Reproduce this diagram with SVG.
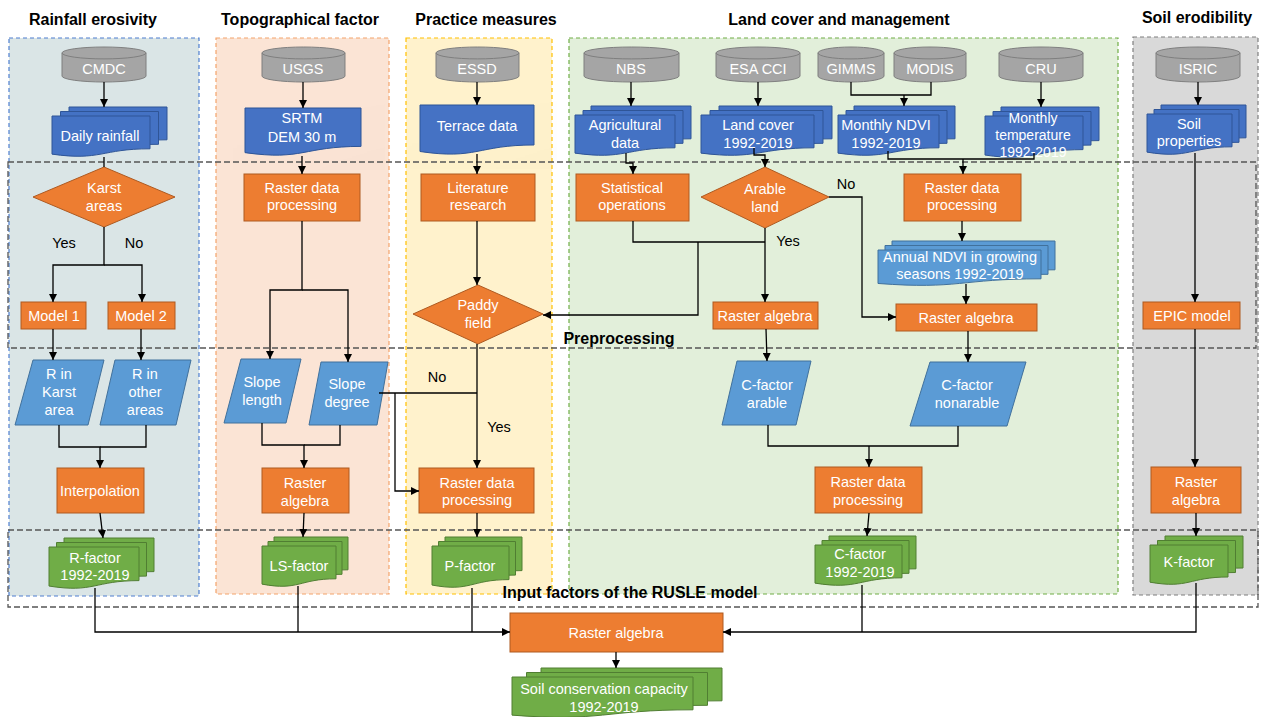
<svg xmlns="http://www.w3.org/2000/svg" xmlns:xlink="http://www.w3.org/1999/xlink" width="1262" height="717" viewBox="0 0 1262 717">
<style>
text{font-family:"Liberation Sans",Arial,sans-serif}
.t{font-size:14.5px;fill:#fff;stroke:none;text-anchor:middle}
.t14{font-size:14px}
.lbl{font-size:14.5px;fill:#000;stroke:none;text-anchor:middle}
.title{font-size:16px;font-weight:bold;fill:#000;text-anchor:middle}
.or{fill:#ed7d31;stroke:#ae5a21;stroke-width:1}
.db{fill:#4472c4;stroke:#2f5597;stroke-width:1}
.lb{fill:#5b9bd5;stroke:#41719c;stroke-width:1}
.gr{fill:#70ad47;stroke:#507e32;stroke-width:1}
.cy{fill:#a5a5a5;stroke:#7f7f7f;stroke-width:1}
.cn{fill:none;stroke:#000;stroke-width:1.3}
.ar{marker-end:url(#ah)}
.pan{stroke-width:1.2;stroke-dasharray:4 3}
.band{fill:none;stroke:#555;stroke-width:1.3;stroke-dasharray:6 3}
</style>
<defs>
<marker id="ah" viewBox="0 0 10 10" refX="10" refY="5" markerWidth="8" markerHeight="8" markerUnits="userSpaceOnUse" orient="auto"><path d="M0,0 L10,5 L0,10 Z" fill="#000"/></marker>
<path id="doc" d="M0,0 H1 V0.8 C0.5,0.8 0.5,1.1 0,0.93 Z" vector-effect="non-scaling-stroke"/>
<g id="cyl"><path d="M0,0.17 A0.5,0.17 0 0 1 1,0.17 V0.83 A0.5,0.17 0 0 1 0,0.83 Z" vector-effect="non-scaling-stroke"/><path d="M0,0.17 A0.5,0.17 0 0 0 1,0.17" fill="none" vector-effect="non-scaling-stroke"/></g>
<filter id="sh" x="-10%" y="-10%" width="130%" height="140%"><feDropShadow dx="2" dy="2.5" stdDeviation="1.5" flood-color="#000" flood-opacity="0.35"/></filter>
</defs>

<g id="panels">
<rect class="pan" x="9" y="38" width="190" height="558" fill="#dae5e6" stroke="#4f7fd0"/>
<rect class="pan" x="216" y="38" width="173" height="556" fill="#fbe4d5" stroke="#f4a46c"/>
<rect class="pan" x="406" y="38" width="146" height="556" fill="#fff2cc" stroke="#ffc000"/>
<rect class="pan" x="569" y="38" width="549" height="556" fill="#e2efda" stroke="#70ad47"/>
<rect class="pan" x="1133" y="37" width="125" height="558" fill="#d9d9d9" stroke="#7f7f7f"/>
<rect class="band" x="8" y="162" width="1248" height="186"/>
<rect class="band" x="8" y="530" width="1250" height="77"/>
</g>

<g id="titles">
<text class="title" x="93" y="25">Rainfall erosivity</text>
<text class="title" x="300" y="25">Topographical factor</text>
<text class="title" x="486" y="25">Practice measures</text>
<text class="title" x="839" y="25">Land cover and management</text>
<text class="title" x="1197" y="23">Soil erodibility</text>
<text class="title" x="619" y="344">Preprocessing</text>
<text class="title" x="630" y="598">Input factors of the RUSLE model</text>
</g>

<!-- Rainfall erosivity -->
<g id="n-cmdc" class="cy"><use href="#cyl" transform="translate(62,47) scale(84,35)"/><text class="t" x="104" y="74">CMDC</text></g>
<g id="n-daily" class="db"><use href="#doc" transform="translate(69,107) scale(98,41)"/><use href="#doc" transform="translate(60.5,111.5) scale(98,41)"/><use href="#doc" transform="translate(52,116) scale(98,41)"/><text class="t" x="100" y="141">Daily rainfall</text></g>
<g id="n-karst" class="or"><polygon points="104,167 175,197 104,227 33,197"/><text class="t" x="104" y="193">Karst</text><text class="t" x="104" y="211">areas</text></g>
<g id="n-model1" class="or"><rect x="21" y="302" width="65" height="27"/><text class="t" x="54" y="321">Model 1</text></g>
<g id="n-model2" class="or"><rect x="108" y="302" width="67" height="27"/><text class="t" x="141" y="321">Model 2</text></g>
<g id="n-rkarst" class="lb"><polygon points="33,360 104,360 88,425 15,425"/><text class="t" x="59" y="379">R in</text><text class="t" x="59" y="397">Karst</text><text class="t" x="59" y="415">area</text></g>
<g id="n-rother" class="lb"><polygon points="115,360 191,360 176,425 100,425"/><text class="t" x="145" y="379">R in</text><text class="t" x="145" y="397">other</text><text class="t" x="145" y="415">areas</text></g>
<g id="n-interp" class="or"><rect x="57" y="468" width="87" height="45"/><text class="t" x="100" y="496">Interpolation</text></g>
<g id="n-rfactor" class="gr"><use href="#doc" transform="translate(64,538) scale(90,42)"/><use href="#doc" transform="translate(56.5,542.5) scale(90,42)"/><use href="#doc" transform="translate(49,547) scale(90,42)"/><text class="t" x="95" y="563">R-factor</text><text class="t" x="95" y="580">1992-2019</text></g>

<!-- Topographical -->
<g id="n-usgs" class="cy"><use href="#cyl" transform="translate(262,47) scale(83,35)"/><text class="t" x="303" y="74">USGS</text></g>
<g id="n-srtm" class="db"><use href="#doc" filter="url(#sh)" transform="translate(245,108) scale(116,48)"/><text class="t" x="302" y="123">SRTM</text><text class="t" x="302" y="142">DEM 30 m</text></g>
<g id="n-rdp1" class="or"><rect x="244" y="174" width="116" height="47"/><text class="t" x="302" y="193">Raster data</text><text class="t" x="302" y="210">processing</text></g>
<g id="n-slen" class="lb"><polygon points="241,359 301,359 286,423 224,423"/><text class="t" x="262" y="387">Slope</text><text class="t" x="262" y="405">length</text></g>
<g id="n-sdeg" class="lb"><polygon points="321,362 388,362 377,425 309,425"/><text class="t" x="347" y="389">Slope</text><text class="t" x="347" y="407">degree</text></g>
<g id="n-ra1" class="or"><rect x="262" y="468" width="87" height="45"/><text class="t" x="305" y="488">Raster</text><text class="t" x="305" y="506">algebra</text></g>
<g id="n-ls" class="gr"><use href="#doc" transform="translate(274,537) scale(74,41)"/><use href="#doc" transform="translate(268,541.5) scale(74,41)"/><use href="#doc" transform="translate(262,546) scale(74,41)"/><text class="t" x="299" y="571">LS-factor</text></g>

<!-- Practice -->
<g id="n-essd" class="cy"><use href="#cyl" transform="translate(436,47) scale(83,35)"/><text class="t" x="477" y="74">ESSD</text></g>
<g id="n-terrace" class="db"><use href="#doc" filter="url(#sh)" transform="translate(420,105) scale(114,50)"/><text class="t" x="477" y="131">Terrace data</text></g>
<g id="n-lit" class="or"><rect x="421" y="174" width="114" height="47"/><text class="t" x="478" y="193">Literature</text><text class="t" x="478" y="210">research</text></g>
<g id="n-paddy" class="or"><polygon points="478,285 543,314 478,344 413,314"/><text class="t" x="478" y="310">Paddy</text><text class="t" x="478" y="328">field</text></g>
<g id="n-rdp2" class="or"><rect x="419" y="468" width="115" height="45"/><text class="t" x="477" y="488">Raster data</text><text class="t" x="477" y="505">processing</text></g>
<g id="n-p" class="gr"><use href="#doc" transform="translate(445,537) scale(77,42)"/><use href="#doc" transform="translate(438.5,541.5) scale(77,42)"/><use href="#doc" transform="translate(432,546) scale(77,42)"/><text class="t" x="470" y="571">P-factor</text></g>

<!-- Land cover -->
<g id="n-nbs" class="cy"><use href="#cyl" transform="translate(584,47) scale(95,35)"/><text class="t" x="631" y="74">NBS</text></g>
<g id="n-agri" class="db"><use href="#doc" transform="translate(591,106) scale(100,41)"/><use href="#doc" transform="translate(583,110.5) scale(100,41)"/><use href="#doc" transform="translate(575,115) scale(100,41)"/><text class="t" x="625" y="130">Agricultural</text><text class="t" x="625" y="148">data</text></g>
<g id="n-stat" class="or"><rect x="576" y="174" width="113" height="47"/><text class="t" x="632" y="193">Statistical</text><text class="t" x="632" y="210">operations</text></g>
<g id="n-esa" class="cy"><use href="#cyl" transform="translate(716,47) scale(84,35)"/><text class="t" x="758" y="74">ESA CCI</text></g>
<g id="n-lc" class="db"><use href="#doc" transform="translate(719,106) scale(113,41)"/><use href="#doc" transform="translate(710,110.5) scale(113,41)"/><use href="#doc" transform="translate(701,115) scale(113,41)"/><text class="t" x="758" y="130">Land cover</text><text class="t" x="758" y="148">1992-2019</text></g>
<g id="n-arable" class="or"><polygon points="765,167 829,197 765,228 701,197"/><text class="t" x="765" y="194">Arable</text><text class="t" x="765" y="212">land</text></g>
<g id="n-ra2" class="or"><rect x="713" y="302" width="105" height="27"/><text class="t" x="765" y="321">Raster algebra</text></g>
<g id="n-carable" class="lb"><polygon points="737,361 811,361 796,425 722,425"/><text class="t" x="767" y="390">C-factor</text><text class="t" x="767" y="408">arable</text></g>
<g id="n-gimms" class="cy"><use href="#cyl" transform="translate(818,47) scale(66,35)"/><text class="t" x="851" y="74">GIMMS</text></g>
<g id="n-modis" class="cy"><use href="#cyl" transform="translate(894,47) scale(72,35)"/><text class="t" x="930" y="74">MODIS</text></g>
<g id="n-ndvi" class="db"><use href="#doc" transform="translate(854,106) scale(101,41)"/><use href="#doc" transform="translate(846,110.5) scale(101,41)"/><use href="#doc" transform="translate(838,115) scale(101,41)"/><text class="t" x="886" y="130">Monthly NDVI</text><text class="t" x="886" y="148">1992-2019</text></g>
<g id="n-cru" class="cy"><use href="#cyl" transform="translate(999,47) scale(84,35)"/><text class="t" x="1041" y="74">CRU</text></g>
<g id="n-temp" class="db"><use href="#doc" transform="translate(1001,107) scale(98,42)"/><use href="#doc" transform="translate(993,111.5) scale(98,42)"/><use href="#doc" transform="translate(985,116) scale(98,42)"/><text class="t t14" x="1033" y="123">Monthly</text><text class="t t14" x="1033" y="140">temperature</text><text class="t t14" x="1033" y="157">1992-2019</text></g>
<g id="n-rdp3" class="or"><rect x="904" y="174" width="117" height="47"/><text class="t" x="962" y="193">Raster data</text><text class="t" x="962" y="210">processing</text></g>
<g id="n-annual" class="lb"><use href="#doc" transform="translate(892,241) scale(163,36)"/><use href="#doc" transform="translate(885,245.5) scale(163,36)"/><use href="#doc" transform="translate(878,250) scale(163,36)"/><text class="t" x="960" y="262">Annual NDVI in growing</text><text class="t" x="960" y="279">seasons 1992-2019</text></g>
<g id="n-ra3" class="or"><rect x="896" y="304" width="141" height="27"/><text class="t" x="966" y="323">Raster algebra</text></g>
<g id="n-cnon" class="lb"><polygon points="930,362 1026,362 1007,426 910,426"/><text class="t" x="967" y="390">C-factor</text><text class="t" x="967" y="408">nonarable</text></g>
<g id="n-rdp4" class="or"><rect x="815" y="467" width="107" height="46"/><text class="t" x="868" y="487">Raster data</text><text class="t" x="868" y="505">processing</text></g>
<g id="n-c" class="gr"><use href="#doc" transform="translate(829,536) scale(87,41)"/><use href="#doc" transform="translate(822,540.5) scale(87,41)"/><use href="#doc" transform="translate(815,545) scale(87,41)"/><text class="t" x="860" y="559">C-factor</text><text class="t" x="860" y="577">1992-2019</text></g>

<!-- Soil erodibility -->
<g id="n-isric" class="cy"><use href="#cyl" transform="translate(1156,47) scale(84,35)"/><text class="t" x="1198" y="74">ISRIC</text></g>
<g id="n-soilprop" class="db"><use href="#doc" transform="translate(1161,105) scale(85,41)"/><use href="#doc" transform="translate(1154,109.5) scale(85,41)"/><use href="#doc" transform="translate(1147,114) scale(85,41)"/><text class="t" x="1189" y="129">Soil</text><text class="t" x="1189" y="146">properties</text></g>
<g id="n-epic" class="or"><rect x="1143" y="302" width="97" height="27"/><text class="t" x="1192" y="321">EPIC model</text></g>
<g id="n-ra4" class="or"><rect x="1151" y="467" width="90" height="46"/><text class="t" x="1196" y="487">Raster</text><text class="t" x="1196" y="505">algebra</text></g>
<g id="n-k" class="gr"><use href="#doc" transform="translate(1165,536) scale(78,40)"/><use href="#doc" transform="translate(1157.5,540.5) scale(78,40)"/><use href="#doc" transform="translate(1150,545) scale(78,40)"/><text class="t" x="1189" y="567">K-factor</text></g>

<!-- Bottom -->
<g id="n-rafinal" class="or"><rect x="510" y="613" width="213" height="39"/><text class="t" x="616" y="638">Raster algebra</text></g>
<g id="n-scc" class="gr"><use href="#doc" transform="translate(541,668) scale(181,41)"/><use href="#doc" transform="translate(526.5,672.5) scale(181,41)"/><use href="#doc" transform="translate(512,677) scale(181,41)"/><text class="t" x="604" y="694">Soil conservation capacity</text><text class="t" x="604" y="712">1992-2019</text></g>

<g id="connectors" class="cn">
<path class="ar" d="M104,82 V107"/>
<path d="M104,157 V167"/>
<path class="ar" d="M104,227 V265 H53 V302"/>
<path class="ar" d="M104,265 H142 V302"/>
<path class="ar" d="M53,329 V360"/>
<path class="ar" d="M141,329 V360"/>
<path class="ar" d="M59,425 V447 H100 V468"/>
<path d="M146,425 V447 H100"/>
<path class="ar" d="M100,513 L103,538"/>
<path class="ar" d="M95,588 V632 H510"/>
<path class="ar" d="M303,82 V108"/>
<path class="ar" d="M302,156 V174"/>
<path class="ar" d="M302,221 V290 H270 V359"/>
<path class="ar" d="M302,290 H348 V362"/>
<path class="ar" d="M262,423 V445 H304 V468"/>
<path d="M340,425 V445 H304"/>
<path class="ar" d="M304,513 L303,537"/>
<path d="M298,586 V632"/>
<path class="ar" d="M477,82 V105"/>
<path class="ar" d="M477,154 V174"/>
<path class="ar" d="M477,221 V285"/>
<path class="ar" d="M477,344 V468"/>
<path d="M379,393 H477"/>
<path class="ar" d="M395,393 V491 H419"/>
<path class="ar" d="M477,513 V537"/>
<path d="M472,588 V632"/>
<path class="ar" d="M631,82 V106"/>
<path class="ar" d="M626,153 V163 H633 V174"/>
<path class="ar" d="M758,82 V106"/>
<path class="ar" d="M754,148 V155 H765 V167"/>
<path d="M633,221 V242 H765"/>
<path class="ar" d="M765,228 V302"/>
<path class="ar" d="M698,242 V315 H543"/>
<path class="ar" d="M829,197 H862 V317 H896"/>
<path class="ar" d="M766,329 L767,361"/>
<path d="M851,82 V95 H931 V82"/>
<path class="ar" d="M904,95 V106"/>
<path class="ar" d="M1041,82 V107"/>
<path d="M888,151 V159 H1034 V153"/>
<path class="ar" d="M963,159 V174"/>
<path class="ar" d="M962,221 V241"/>
<path class="ar" d="M966,284 V304"/>
<path class="ar" d="M968,331 V362"/>
<path d="M768,425 V446 H958 V426"/>
<path class="ar" d="M869,446 V467"/>
<path class="ar" d="M869,513 L867,536"/>
<path d="M862,585 V632"/>
<path class="ar" d="M1198,82 V105"/>
<path class="ar" d="M1195,153 V302"/>
<path class="ar" d="M1195,329 V467"/>
<path class="ar" d="M1196,513 V536"/>
<path class="ar" d="M1196,583 V632 H723"/>
<path class="ar" d="M616,652 V668"/>
</g>

<g id="labels">
<text class="lbl" x="64" y="248">Yes</text>
<text class="lbl" x="134" y="248">No</text>
<text class="lbl" x="437" y="382">No</text>
<text class="lbl" x="499" y="432">Yes</text>
<text class="lbl" x="788" y="246">Yes</text>
<text class="lbl" x="846" y="189">No</text>
</g>
</svg>
